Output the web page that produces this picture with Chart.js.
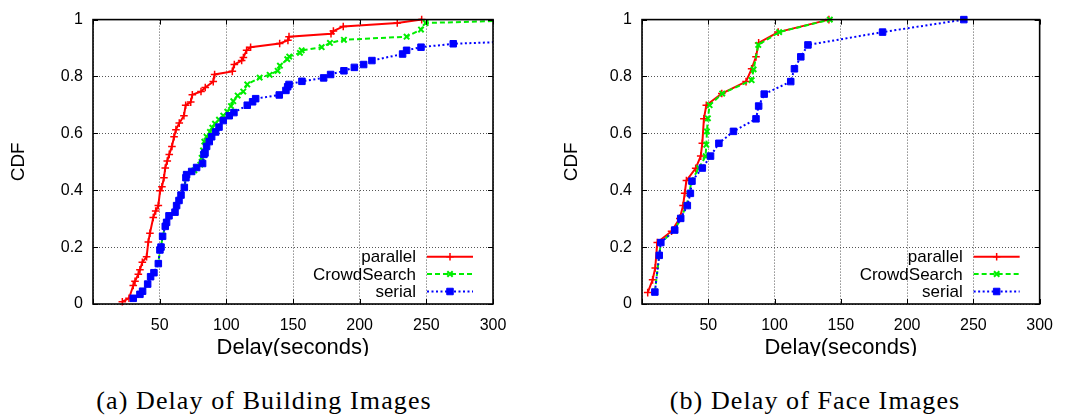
<!DOCTYPE html>
<html><head><meta charset="utf-8">
<script src="https://cdn.jsdelivr.net/npm/chart.js@4/dist/chart.umd.min.js"></script>
<style>
html,body{margin:0;padding:0;background:#fff;width:1065px;height:419px;overflow:hidden;}
.wrap{position:absolute;top:0;height:356px;overflow:hidden;}
.cap{position:absolute;top:386px;font-family:"Liberation Serif","DejaVu Serif",serif;font-size:26px;line-height:30px;letter-spacing:1.1px;white-space:nowrap;text-align:center;width:500px;color:#000;}
</style></head><body>
<div class="wrap" style="left:0;width:530px"><canvas id="c1" width="530" height="370" style="width:530px;height:370px"></canvas></div>
<div class="wrap" style="left:530px;width:535px"><canvas id="c2" width="535" height="370" style="width:535px;height:370px"></canvas></div>
<div class="cap" style="left:14px">(a) Delay of Building Images</div>
<div class="cap" style="left:565px">(b) Delay of Face Images</div>
<script>
// ---------- DATA ----------
const seriesNames = ['parallel', 'CrowdSearch', 'serial'];
const xTicks = [0, 50, 100, 150, 200, 250, 300];
const yTicks = [0, 0.2, 0.4, 0.6, 0.8, 1];

// (a) Delay of Building Images
const buildParallelX = [22,27,30.2,31.5,34,35.2,37,40.2,41.5,42.7,45.2,47,49,50.3,51.7,53.2,54.2,55.7,57.2,59.2,60.8,62.2,64.7,68.2,69.5,73.3,74.5,81,84.2,90.2,91.2,104.5,106,111.5,112.8,115.2,118.2,140,146.2,147,178.5,180.3,187.7,228.2,246.5];
const buildParallelY = [0.008,0.02,0.065,0.08,0.105,0.12,0.147,0.166,0.218,0.249,0.304,0.327,0.346,0.398,0.412,0.444,0.478,0.503,0.526,0.554,0.588,0.613,0.636,0.662,0.699,0.71,0.736,0.747,0.761,0.782,0.807,0.818,0.842,0.856,0.867,0.892,0.903,0.916,0.927,0.94,0.95,0.96,0.976,0.988,1.0];
const buildCrowdX = [30.2,35.2,37.2,41,43.2,45.7,49,50.2,51,52.2,54.2,55.2,57,61.5,62.7,64.5,66,68.5,69.7,70.2,76,80.5,81.5,82.5,83.5,85.2,87.7,89.5,91.5,94.5,97.7,100.7,103.5,105.2,108.5,112.7,115.7,125,132.5,138.5,140.2,145.7,147.2,155.2,156.5,171.5,177.7,188.2,235.2,246,249.5,340];
const buildCrowdY = [0.02,0.034,0.045,0.07,0.096,0.11,0.142,0.19,0.2,0.238,0.273,0.287,0.31,0.323,0.346,0.364,0.383,0.41,0.444,0.455,0.47,0.49,0.514,0.54,0.571,0.588,0.605,0.62,0.634,0.648,0.662,0.676,0.696,0.713,0.733,0.747,0.772,0.796,0.806,0.82,0.838,0.861,0.87,0.883,0.892,0.903,0.918,0.929,0.94,0.965,0.988,1.0];
const buildSerialX = [30.2,35.2,37.2,41,43.2,45.7,49,50.2,51,52.2,54.2,55.2,57,61.5,62.7,64.5,66,68.5,69.7,70.2,74,77.7,82.2,83.2,84,85.2,87.2,89,92,94.5,97.7,102.2,105.7,115.7,119.7,122,139.7,144.7,146,147,156.7,173,178.2,188.2,196,203,209.2,232.2,235.2,246,270.2,340];
const buildSerialY = [0.02,0.034,0.045,0.07,0.096,0.11,0.142,0.19,0.2,0.238,0.273,0.287,0.31,0.323,0.346,0.364,0.383,0.41,0.444,0.455,0.466,0.48,0.494,0.526,0.531,0.554,0.571,0.588,0.605,0.622,0.645,0.662,0.673,0.699,0.711,0.722,0.735,0.751,0.764,0.772,0.783,0.795,0.807,0.82,0.832,0.842,0.856,0.879,0.892,0.903,0.915,0.927];

// (b) Delay of Face Images
const faceParallelX = [4.3,8,10,11.5,22.3,28.5,31,32.2,33.5,40.5,44.3,45.5,46.7,48.5,60.2,78.5,82.7,86,88,102.7,141];
const faceParallelY = [0.04,0.085,0.127,0.216,0.256,0.301,0.346,0.389,0.434,0.477,0.52,0.565,0.651,0.699,0.74,0.782,0.827,0.869,0.918,0.956,1.0];
const faceCrowdX = [9.7,13,14.2,24.7,29.2,33.5,35.8,37.2,43,48,48.5,49,49.7,51,60.5,82.7,84.2,87.7,103.5,141.7];
const faceCrowdY = [0.042,0.171,0.216,0.26,0.301,0.346,0.389,0.432,0.478,0.52,0.56,0.607,0.653,0.699,0.74,0.787,0.825,0.911,0.956,1.0];
const faceSerialX = [9.7,13,14.2,24.7,29.2,34.2,36.5,37.7,45.5,51.7,58,69,86,88,92.2,112.2,115,119.8,125.2,181.5,242.8];
const faceSerialY = [0.042,0.171,0.216,0.26,0.301,0.346,0.389,0.432,0.478,0.52,0.565,0.607,0.651,0.696,0.738,0.782,0.827,0.869,0.911,0.956,1.0];

// ---------- STYLE ----------
Chart.defaults.font.family = '"Liberation Sans", Arial, Helvetica, sans-serif';
Chart.defaults.color = '#000';

const styles = [
  {color:'#ff0000', dash:[], pointStyle:'cross', radius:3.8, pbw:1.5, order:2},
  {color:'#00ee00', dash:[5,3], pointStyle:'crossRot', radius:3.8, pbw:2, order:1},
  {color:'#0000ff', dash:[2,2.5], pointStyle:'rect', radius:4.6, pbw:1, order:0}
];

function pts(xs, ys){ return xs.map((x,i)=>({x:x, y:ys[i]})); }

function drawMarker(ctx, style, color, x, y, r, bw){
  ctx.save();
  ctx.setLineDash([]);
  ctx.strokeStyle = color; ctx.fillStyle = color; ctx.lineWidth = bw;
  ctx.beginPath();
  if (style === 'cross'){ ctx.moveTo(x-r,y); ctx.lineTo(x+r,y); ctx.moveTo(x,y-r); ctx.lineTo(x,y+r); ctx.stroke(); }
  else if (style === 'crossRot'){ const d=r*0.7071; ctx.moveTo(x-d,y-d); ctx.lineTo(x+d,y+d); ctx.moveTo(x+d,y-d); ctx.lineTo(x-d,y+d); ctx.stroke(); }
  else { const s=r*0.7071; ctx.rect(x-s,y-s,2*s,2*s); ctx.fill(); ctx.stroke(); }
  ctx.restore();
}

const framePlugin = {
  id:'frame',
  afterDatasetsDraw(chart){
    const {ctx, chartArea:a, scales:{x, y}} = chart;
    ctx.save();
    ctx.strokeStyle = '#000';
    ctx.lineWidth = 1;
    ctx.beginPath();
    x.ticks.forEach(t=>{ const px = Math.round(x.getPixelForValue(t.value))+0.5;
      ctx.moveTo(px, a.bottom); ctx.lineTo(px, a.bottom-5);
      ctx.moveTo(px, a.top); ctx.lineTo(px, a.top+5); });
    y.ticks.forEach(t=>{ const py = Math.round(y.getPixelForValue(t.value))+0.5;
      ctx.moveTo(a.left, py); ctx.lineTo(a.left+5, py);
      ctx.moveTo(a.right, py); ctx.lineTo(a.right-5, py); });
    ctx.stroke();
    ctx.lineWidth = 1.6;
    ctx.strokeRect(a.left, a.top, a.right-a.left, a.bottom-a.top);
    // legend
    const rows = [47.3, 30, 12.5];
    ctx.font = '17px "Liberation Sans", Arial, sans-serif';
    ctx.textAlign = 'right'; ctx.textBaseline = 'middle'; ctx.fillStyle = '#000';
    chart.data.datasets.forEach((ds, i)=>{
      const st = styles[i];
      const yy = a.bottom - rows[i];
      ctx.fillText(ds.label, a.right-77, yy+1);
      ctx.save();
      ctx.strokeStyle = st.color; ctx.lineWidth = 2; ctx.setLineDash(st.dash);
      ctx.beginPath(); ctx.moveTo(a.right-66, yy); ctx.lineTo(a.right-20, yy); ctx.stroke();
      ctx.restore();
      drawMarker(ctx, st.pointStyle, st.color, a.right-43, yy, st.radius, st.pbw);
    });
    ctx.restore();
  }
};

function makeChart(id, xsList, ysList, plotLeft, padRight, titlePad){
  const datasets = seriesNames.map((name, i)=>({
    label: name,
    data: pts(xsList[i], ysList[i]),
    borderColor: styles[i].color,
    backgroundColor: styles[i].color,
    borderWidth: 2,
    borderDash: styles[i].dash,
    pointStyle: styles[i].pointStyle,
    pointRadius: styles[i].radius,
    pointBorderWidth: styles[i].pbw,
    pointBorderColor: styles[i].color,
    pointBackgroundColor: styles[i].color,
    pointHoverRadius: styles[i].radius,
    tension: 0,
    order: styles[i].order,
    clip: {left: 12, top: 12, right: 0, bottom: 12}
  }));
  return new Chart(document.getElementById(id), {
    type: 'line',
    data: { datasets },
    options: {
      responsive: false, animation: false, devicePixelRatio: 1,
      layout: { padding: { top: 11, right: padRight, left: 0, bottom: 0 } },
      plugins: { legend: { display: false }, tooltip: { enabled: false } },
      scales: {
        x: {
          type: 'linear', min: 0, max: 300,
          afterBuildTicks: s => { s.ticks = xTicks.map(v=>({value:v})); },
          ticks: { autoSkip: false, maxRotation: 0, padding: 12, font: { size: 16 }, color: '#000',
                   callback: v => v === 0 ? '' : String(v) },
          grid: { color: '#555', lineWidth: 1, drawTicks: false },
          border: { display: false, dash: [1, 2] },
          title: { display: true, text: 'Delay(seconds)', font: { size: 22 }, color: '#000', padding: { top: 0, bottom: 8.5 } },
          afterFit: s => { s.height = 66; }
        },
        y: {
          type: 'linear', min: 0, max: 1,
          afterBuildTicks: s => { s.ticks = yTicks.map(v=>({value:v})); },
          ticks: { autoSkip: false, padding: 10, font: { size: 16 }, color: '#000',
                   callback: v => String(Math.round(v*10)/10) },
          grid: { color: '#555', lineWidth: 1, drawTicks: false },
          border: { display: false, dash: [1, 2] },
          title: { display: true, text: 'CDF', font: { size: 19 }, color: '#000', padding: { top: titlePad, bottom: 0 } },
          afterFit: s => { s.width = plotLeft; }
        }
      }
    },
    plugins: [framePlugin]
  });
}

makeChart('c1', [buildParallelX, buildCrowdX, buildSerialX], [buildParallelY, buildCrowdY, buildSerialY], 93, 37, 7.6);
makeChart('c2', [faceParallelX, faceCrowdX, faceSerialX], [faceParallelY, faceCrowdY, faceSerialY], 112, 24, 30.6);
</script>
</body></html>
